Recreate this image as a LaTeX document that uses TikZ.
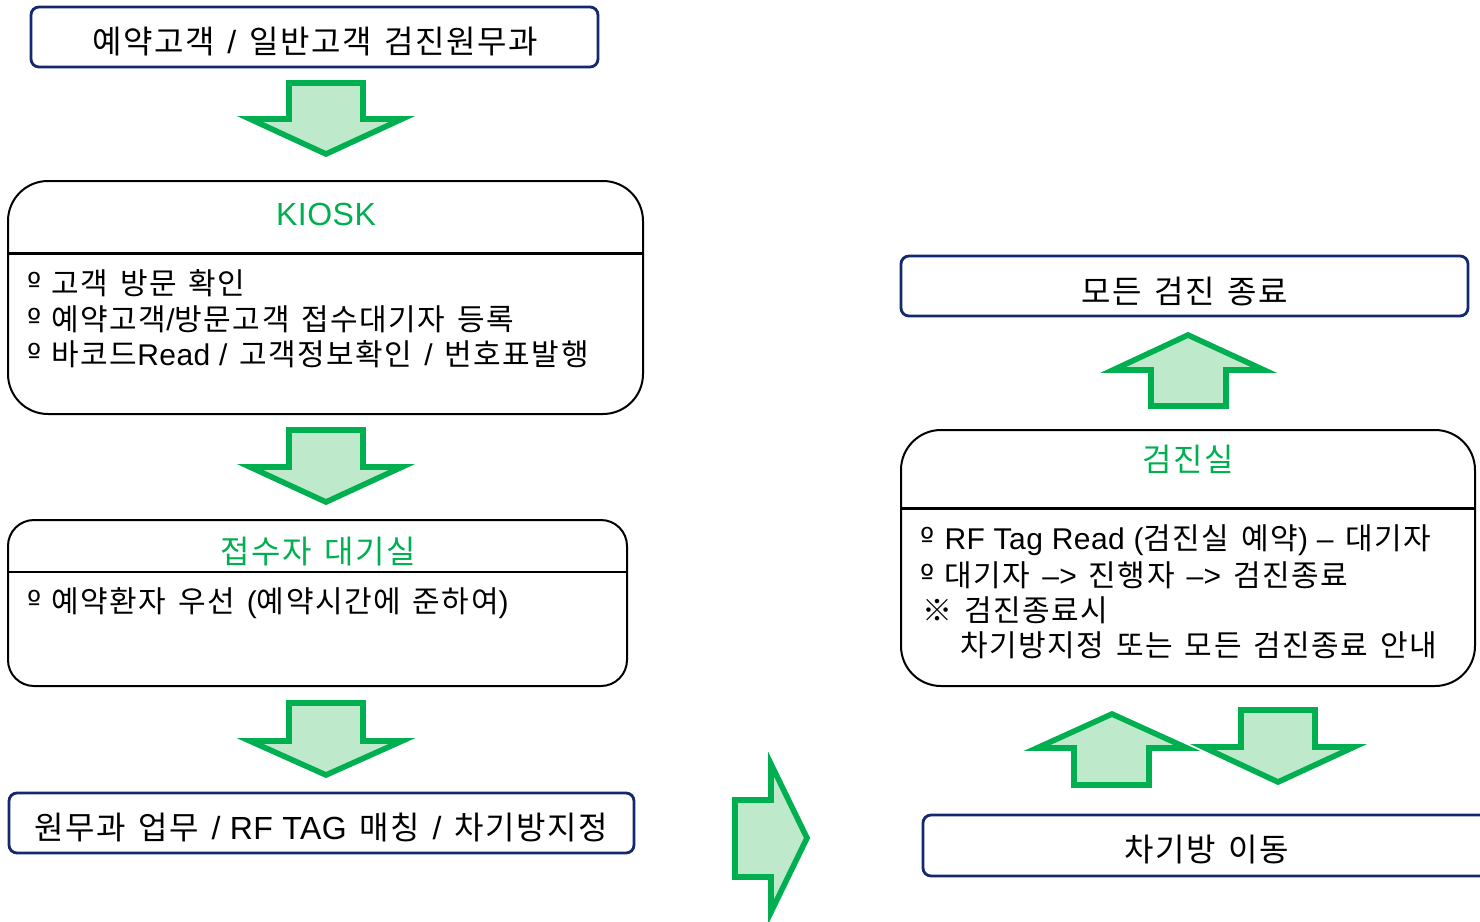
\documentclass[tikz,border=0pt]{standalone}
\usepackage{fontspec}
\setmainfont{Noto Sans CJK KR}[LetterSpace=5,WordSpace=1.45]
\newfontfamily\lat{Liberation Sans}[LetterSpace=1.5,WordSpace=1.0]
\newfontfamily\bulfont{DejaVu Sans}
\definecolor{navy}{RGB}{20,40,110}
\definecolor{grn}{RGB}{0,176,80}
\definecolor{grnfill}{RGB}{190,233,202}
\newcommand{\bul}{{\bulfont º}\hspace{5pt}}
\tikzset{
  navybox/.style={draw=navy, line width=1.4pt, rounded corners=4pt, fill=white},
  blkbox/.style={draw=black, line width=1pt, fill=white},
  sepline/.style={draw=black, line width=1.5pt},
  bigarrow/.style={draw=grn, fill=grnfill, line width=2.8pt, line join=miter},
  maintext/.style={font=\fontsize{16}{19}\selectfont, text=black, inner sep=0pt},
  titletext/.style={font=\fontsize{16}{19}\selectfont, text=grn, inner sep=0pt},
  itemtext/.style={font=\fontsize{15}{18}\selectfont, text=black, inner sep=0pt, anchor=west},
}
\begin{document}
\begin{tikzpicture}[x=0.5pt,y=-0.5pt]
\useasboundingbox (0,0) rectangle (1480,922);

% top box
\draw[navybox] (31,7) rectangle (598,67);
\node[maintext] (t1) at (315,42) {예약고객 {\lat /} 일반고객 검진원무과};

% arrow 1
\draw[bigarrow] (289,83) -- (363,83) -- (363,119) -- (402,119) -- (326,154) -- (250,119) -- (289,119) -- cycle;

% KIOSK
\draw[blkbox, rounded corners=20pt] (8,181) rectangle (643,414);
\draw[sepline] (8,253) -- (643,253);
\node[titletext] (kiosk) at (326,214) {\lat KIOSK};
\node[itemtext] (k1) at (27,283) {\bul 고객 방문 확인};
\node[itemtext] (k2) at (27,319) {\bul 예약고객{\lat /}방문고객 접수대기자 등록};
\node[itemtext] (k3) at (27,354) {\bul 바코드{\lat Read /} 고객정보확인 {\lat /} 번호표발행};

% arrow 2
\draw[bigarrow] (289,430) -- (363,430) -- (363,467) -- (402,467) -- (326,502) -- (250,467) -- (289,467) -- cycle;

% reception waiting
\draw[blkbox, rounded corners=13pt] (8,520) rectangle (627,686);
\draw[sepline, line width=1pt] (8,572) -- (627,572);
\node[titletext] (wait) at (318,552) {접수자 대기실};
\node[itemtext] (w1) at (27,603) {\bul 예약환자 우선 {\lat (}예약시간에 준하여{\lat )}};

% arrow 3
\draw[bigarrow] (289,703) -- (363,703) -- (363,741) -- (402,741) -- (326,775) -- (250,741) -- (289,741) -- cycle;

% bottom-left box
\draw[navybox] (9,793) rectangle (634,853);
\node[maintext] (t2) at (321,828) {원무과 업무 {\lat / RF TAG} 매칭 {\lat /} 차기방지정};

% right arrow
\draw[bigarrow] (735,800) -- (771,800) -- (771,764) -- (807,838) -- (771,912) -- (771,877) -- (735,877) -- cycle;

% all checkups done
\draw[navybox] (901,256) rectangle (1468,316);
\node[maintext] (t3) at (1185,291) {모든 검진 종료};

% up arrow
\draw[bigarrow] (1188,335) -- (1264,370) -- (1226,370) -- (1226,406) -- (1151,406) -- (1151,370) -- (1113,370) -- cycle;

% exam room
\draw[blkbox, rounded corners=20pt] (901,430) rectangle (1475,686);
\draw[sepline] (901,508) -- (1475,508);
\node[titletext] (room) at (1188,459) {검진실};
\node[itemtext] (r1) at (920,540) {\bul {\lat RF Tag Read (}검진실 예약{\lat ) –} 대기자};
\node[itemtext] (r2) at (920,575) {\bul 대기자 {\lat –>} 진행자 {\lat –>} 검진종료};
\node[itemtext] (r3) at (922,610) {※ 검진종료시};
\node[itemtext] (r4) at (960,645) {차기방지정 또는 모든 검진종료 안내};

% up / down arrows
\draw[bigarrow] (1112,714) -- (1187,748) -- (1149,748) -- (1149,785) -- (1074,785) -- (1074,748) -- (1037,748) -- cycle;
\draw[bigarrow] (1241,710) -- (1315,710) -- (1315,747) -- (1354,747) -- (1278,782) -- (1203,747) -- (1241,747) -- cycle;

% next room move
\draw[navybox] (923,815) rectangle (1500,876);
\node[maintext] (t4) at (1207,850) {차기방 이동};
\end{tikzpicture}
\end{document}
